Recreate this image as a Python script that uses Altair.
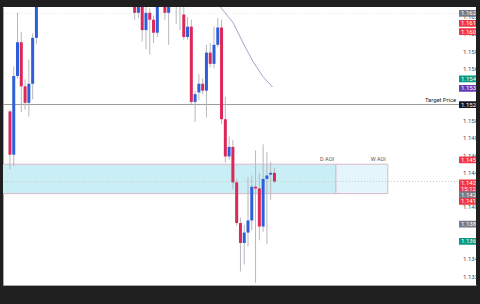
import altair as alt
import pandas as pd

# ---- candle data (index, open, high, low, close) ----
idx =    [0, 1, 2, 3, 4, 5, 6, 7,
          33, 34, 35, 36, 37, 38, 39, 41, 42, 44, 45, 46, 47, 48, 49, 50,
          51, 52, 53, 54, 55, 56, 57, 58, 59, 60, 61, 62, 63, 64, 65, 66,
          67, 68, 69, 70]
opens =  [1.1511, 1.1461, 1.1552, 1.1591, 1.1540, 1.1521, 1.1543, 1.1596,
          1.1640, 1.1625, 1.1636, 1.1605, 1.1625, 1.1617, 1.1602, 1.1640, 1.1625, 1.1650, 1.1636, 1.1623, 1.1597, 1.1609, 1.1522, 1.1533,
          1.1543, 1.1535, 1.1579, 1.1566, 1.1588, 1.1608, 1.1502, 1.1459, 1.1470, 1.1429, 1.1382, 1.1359, 1.1371, 1.1385, 1.1424, 1.1422,
          1.1378, 1.1433, 1.1438, 1.1440]
highs =  [1.1513, 1.1563, 1.1625, 1.1603, 1.1548, 1.1571, 1.1601, 1.1655,
          1.1648, 1.1645, 1.1642, 1.1632, 1.1630, 1.1622, 1.1648, 1.1650, 1.1650, 1.1656, 1.1645, 1.1634, 1.1620, 1.1617, 1.1535, 1.1554,
          1.1549, 1.1588, 1.1590, 1.1609, 1.1619, 1.1617, 1.1528, 1.1482, 1.1478, 1.1433, 1.1388, 1.1380, 1.1435, 1.1437, 1.1466, 1.1440,
          1.1473, 1.1464, 1.1453, 1.1446]
lows =   [1.1444, 1.1448, 1.1549, 1.1510, 1.1513, 1.1505, 1.1525, 1.1589,
          1.1617, 1.1619, 1.1592, 1.1583, 1.1577, 1.1590, 1.1597, 1.1617, 1.1588, 1.1612, 1.1605, 1.1594, 1.1594, 1.1519, 1.1499, 1.1524,
          1.1531, 1.1504, 1.1562, 1.1561, 1.1585, 1.1496, 1.1452, 1.1455, 1.1421, 1.1379, 1.1326, 1.1334, 1.1355, 1.1374, 1.1313, 1.1362,
          1.1372, 1.1358, 1.1409, 1.1428]
closes = [1.1461, 1.1552, 1.1591, 1.1540, 1.1521, 1.1543, 1.1596, 1.1646,
          1.1625, 1.1638, 1.1605, 1.1625, 1.1617, 1.1602, 1.1640, 1.1625, 1.1641, 1.1643, 1.1632, 1.1597, 1.1609, 1.1522, 1.1531, 1.1543,
          1.1535, 1.1579, 1.1566, 1.1588, 1.1608, 1.1502, 1.1459, 1.1470, 1.1429, 1.1382, 1.1359, 1.1371, 1.1385, 1.1424, 1.1422, 1.1378,
          1.1433, 1.1437, 1.1440, 1.1430]

# ---- moving average line ----
ma_i = [55.7, 59.1, 61.7, 64.3, 66.9, 69.5]
ma_v = [1.16317, 1.16132, 1.15901, 1.15688, 1.15515, 1.15393]

# ---- zones ----
zone_names = ["D AOI", "W AOI"]
zone_x0 = [-5.0, 86.27]
zone_x1 = [86.27, 100.0]
zone_lo = [1.1416, 1.1416]
zone_hi = [1.1450, 1.1450]
zone_fill = ["#c9eef5", "#e4f5fc"]

target_price = 1.1519
target_label = "Target Price"
current_price = 1.1430
prev_level = 1.16244

# ---- price axis labels (those not hidden behind price badges) ----
tick_labels = ["1.1320", "1.1340", "1.1400", "1.1440", "1.1460", "1.1480", "1.1500",
               "1.1560", "1.1580", "1.1600", "1.1620"]

# ---- price badges ----
badge_text = ["1.1637", "1.1625", "1.1614", "1.1604", "1.1549", "1.1538", "1.1520",
              "1.1455", "1.1429", "1.1420", "1.1413", "1.1380", "1.1360", "1.1305"]
badge_pos = [1.16357, 1.16244, 1.16128, 1.16033, 1.15485, 1.15377, 1.1519,
             1.14549, 1.14283, 1.14148, 1.14071, 1.13809, 1.13609, 1.13046]
badge_rows = [1, 1, 1, 1, 1, 1, 1, 1, 2, 1, 1, 1, 1, 1]
badge_sub = ["", "", "", "", "", "", "", "", "15:12", "", "", "", "", ""]
badge_color = ["#089981", "#787b86", "#f23645", "#f23645", "#089981", "#673ab7", "#131722",
               "#f23645", "#f23645", "#787b86", "#f23645", "#787b86", "#089981", "#089981"]

RED = "#dc2858"
BLUE = "#2d5fdc"
FONT = "Roboto"

candles = pd.DataFrame({"i": idx, "o": opens, "h": highs, "l": lows, "c": closes})
candles["dir"] = ["up" if c >= o else "down" for o, c in zip(opens, closes)]
ma = pd.DataFrame({"i": ma_i, "v": ma_v})
zones = pd.DataFrame({"name": zone_names, "x0": zone_x0, "x1": zone_x1,
                      "lo": zone_lo, "hi": zone_hi, "fill": zone_fill})
ticks = pd.DataFrame({"t": tick_labels, "p": [float(t) for t in tick_labels]})
badges = pd.DataFrame({"t": badge_text, "p": badge_pos, "rows": badge_rows,
                       "sub": badge_sub, "col": badge_color})
levels = pd.DataFrame({"p": [target_price], "t": [target_label]})

HALF = 0.00039
ROW = 0.00072
badges["top"] = badges["p"] + HALF
badges["bot"] = badges["p"] - HALF - (badges["rows"] - 1) * ROW
badges["p2"] = badges["p"] - ROW

XS = alt.Scale(domain=[-0.52, 122.02], nice=False, zero=False)
YS = alt.Scale(domain=[1.13104, 1.16317], nice=False, zero=False)
xax = alt.Axis(labels=False, ticks=False, grid=False, domain=True, domainColor="#a8a8a8", title=None)
yax = alt.Axis(labels=False, ticks=False, grid=False, domain=True, domainColor="#a8a8a8", title=None)

def X(f):
    return alt.X(f, type="quantitative", scale=XS, axis=xax)

def Y(f):
    return alt.Y(f, type="quantitative", scale=YS, axis=yax)

zone_layer = alt.Chart(zones).mark_rect(stroke="#dcb8cc", strokeWidth=1, clip=True).encode(
    x=X("x0"), x2="x1", y=Y("lo"), y2="hi",
    fill=alt.Fill("fill:N", scale=None))

cur_line = alt.Chart(pd.DataFrame({"p": [current_price]})).mark_rule(
    color="#d2c8cc", strokeDash=[1, 2], strokeWidth=1).encode(y=Y("p"))
prev_line = alt.Chart(pd.DataFrame({"p": [prev_level]})).mark_rule(
    color="#e6e6e6", strokeDash=[1, 2], strokeWidth=1).encode(y=Y("p"))

target_line = alt.Chart(levels).mark_rule(color="#9c9c9c", strokeWidth=1).encode(y=Y("p"))

tick_layer = alt.Chart(ticks).mark_text(align="left", baseline="middle", fontSize=6,
                                        font=FONT, color="#4d4d4d", clip=True).encode(
    x=alt.value(460), y=Y("p"), text="t:N")

ma_layer = alt.Chart(ma).mark_line(color="#a3a5c9", strokeWidth=1, clip=True).encode(
    x=X("i"), y=Y("v"))

wick_layer = alt.Chart(candles).mark_rule(color="#b6b8be", strokeWidth=1, clip=True).encode(
    x=X("i"), y=Y("l"), y2="h")

body_layer = alt.Chart(candles).mark_bar(size=3, clip=True).encode(
    x=X("i"), y=Y("o"), y2="c",
    color=alt.Color("dir:N", scale=alt.Scale(domain=["up", "down"], range=[BLUE, RED]), legend=None))

zone_text = alt.Chart(zones).mark_text(align="right", baseline="bottom", dx=-2, dy=-2,
                                       fontSize=5.5, font=FONT, color="#555555").encode(
    x=X("x1"), y=Y("hi"), text="name:N")

target_text = alt.Chart(levels).mark_text(align="right", baseline="bottom", dy=-2,
                                          fontSize=5.8, font=FONT, color="#222222").encode(
    x=alt.value(453), y=Y("p"), text="t:N")

badge_rect = alt.Chart(badges).mark_rect(clip=True).encode(
    x=alt.value(456), x2=alt.value(490), y=Y("top"), y2="bot",
    fill=alt.Fill("col:N", scale=None))

badge_txt = alt.Chart(badges).mark_text(align="left", baseline="middle", fontSize=6,
                                        font=FONT, color="white", clip=True).encode(
    x=alt.value(458), y=Y("p"), text="t:N")

badge_sub_txt = alt.Chart(badges).transform_filter("datum.sub != ''").mark_text(
    align="left", baseline="middle", fontSize=6, font=FONT, color="white", clip=True).encode(
    x=alt.value(458), y=Y("p2"), text="sub:N")

chart = alt.layer(
    zone_layer, prev_line, cur_line, target_line, tick_layer, ma_layer,
    wick_layer, body_layer, zone_text, target_text, badge_rect, badge_txt, badge_sub_txt
).properties(
    width=473, height=278,
    padding={"left": 3, "top": 7, "right": 4, "bottom": 19},
    autosize="none",
    background="#1f1f1f",
).configure_view(fill="#ffffff", strokeWidth=0)

chart.save("out.html", embed_options={"renderer": "svg", "actions": False})
